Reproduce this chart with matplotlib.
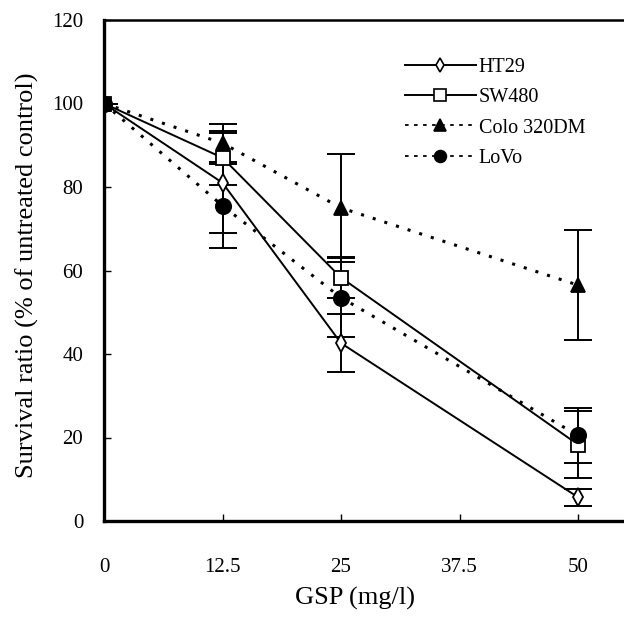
import matplotlib
matplotlib.use("Agg")
import matplotlib.pyplot as plt
from matplotlib.lines import Line2D

plt.rcParams['font.family'] = ['Liberation Serif', 'DejaVu Serif']

doses = [0, 12.5, 25, 50]
xtick_labels = ["0", "12.5", "25", "37.5", "50"]
xtick_vals = [0, 12.5, 25, 37.5, 50]
ytick_vals = [0, 20, 40, 60, 80, 100, 120]

ht29 = [100, 81, 42.6, 5.7]
ht29_err = [0, 12, 7, 2]
sw480 = [100, 87, 58.3, 18.3]
sw480_err = [0, 6.5, 5, 8]
colo = [100, 90.5, 75, 56.5]
colo_err = [0, 4.5, 13, 13.2]
lovo = [100, 75.5, 53.5, 20.5]
lovo_err = [0, 10, 9.5, 6.5]

W, H = 624, 621
fig = plt.figure(figsize=(W / 100, H / 100), dpi=100)
ax_left, ax_bottom, ax_top = 104, 521, 20
xmax = 57.0
px_per_unit = (578 - 104) / 50.0
ax_w = xmax * px_per_unit
ax = fig.add_axes([ax_left / W, 1 - ax_bottom / H, ax_w / W, (ax_bottom - ax_top) / H])

dotted = (0, (1.0, 3.0))
series = [
    ("HT29", ht29, ht29_err, '-', 'd', 'white', 9, 1.4, 7),
    ("SW480", sw480, sw480_err, '-', 's', 'white', 10, 1.4, 8),
    ("Colo 320DM", colo, colo_err, dotted, '^', 'black', 10, 2.2, 8),
    ("LoVo", lovo, lovo_err, dotted, 'o', 'black', 11, 2.2, 8.5),
]

handles = []
for name, y, e, ls, mk, mfc, ms, lw, lms in series:
    ax.errorbar(doses, y, yerr=e, fmt='none', ecolor='black', elinewidth=1.4,
                capsize=10, capthick=1.4, zorder=2)
    ax.plot(doses, y, color='black', linestyle=ls, linewidth=lw, zorder=3)
    ax.plot(doses, y, linestyle='none', marker=mk, markersize=ms,
            markerfacecolor=mfc, markeredgecolor='black', markeredgewidth=1.3, zorder=4)
    handles.append(Line2D([], [], color='black',
                          linestyle=ls if ls == '-' else (0, (2.0, 3.0)),
                          linewidth=1.4 if ls == '-' else 1.3,
                          marker=mk, markersize=lms, markerfacecolor=mfc,
                          markeredgecolor='black', markeredgewidth=1.2, label=name))

ax.set_xlim(0, xmax)
ax.set_ylim(0, 120)
ax.set_xticks(xtick_vals)
ax.set_xticklabels(xtick_labels)
ax.set_yticks(ytick_vals)
ax.tick_params(axis='both', direction='in', length=5, width=1, labelsize=15)
ax.tick_params(axis='y', pad=15)
ax.tick_params(axis='x', pad=27)

for side in ['left', 'bottom']:
    ax.spines[side].set_linewidth(2.4)
ax.spines['top'].set_linewidth(1.8)
ax.spines['right'].set_visible(False)

ax.set_xlabel("GSP (mg/l)", fontsize=19)
ax.xaxis.set_label_coords(26.5 / xmax, -0.132)
ax.set_ylabel("Survival ratio (% of untreated control)", fontsize=19)
ax.yaxis.set_label_coords(-0.12, 0.49)

leg = fig.legend(handles=handles, loc='upper left',
                 bbox_to_anchor=(395 / W, 1 - 48 / H), frameon=False,
                 fontsize=14.5, handlelength=3.5, handletextpad=0.15,
                 labelspacing=0.55, borderpad=0)

fig.savefig("out.png", dpi=100)
